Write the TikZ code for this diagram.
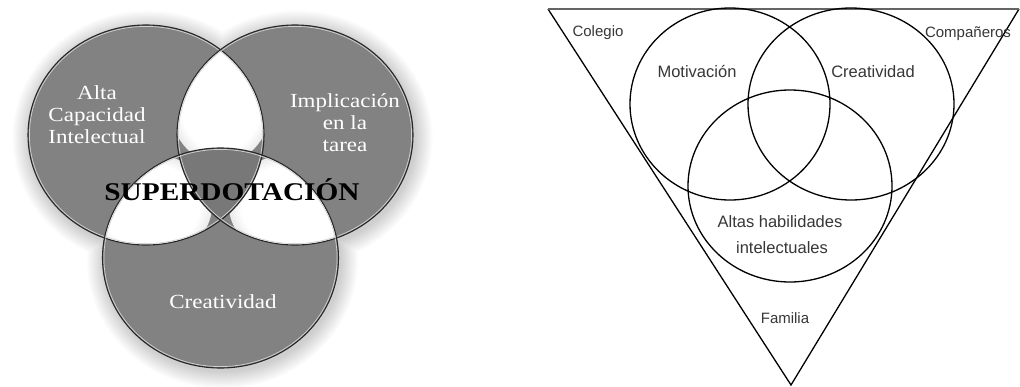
\documentclass[tikz,border=0pt]{standalone}
\usepackage{fontspec}
\newfontfamily\venserif[FakeStretch=1.15]{Liberation Serif}
\newfontfamily\vensans{Liberation Sans}
\definecolor{circgray}{RGB}{130,130,130}
\definecolor{triplegray}{RGB}{120,120,120}
\definecolor{rimdark}{RGB}{40,40,40}
\definecolor{rimlight}{RGB}{210,210,210}
\definecolor{labelgray}{RGB}{55,55,55}
\definecolor{topline}{RGB}{100,100,100}
\pgfdeclareradialshading{lensglow}{\pgfpoint{0bp}{0bp}}{color(0bp)=(white); color(20bp)=(white); color(50bp)=(circgray)}
\tikzset{
  whitelbl/.style={text=white, font=\venserif\fontsize{20}{22}\selectfont, align=center, inner sep=0pt},
  titlelbl/.style={text=black, font=\venserif\bfseries\fontsize{25.5}{28}\selectfont, inner sep=0pt, anchor=base},
  sanslbl/.style={text=labelgray, font=\vensans\fontsize{16.5}{26}\selectfont, inner sep=0pt, anchor=base},
  cornerlbl/.style={text=labelgray, font=\vensans\fontsize{15}{18}\selectfont, inner sep=0pt, anchor=base},
  venline/.style={black, line width=1.3pt},
}
\begin{document}
\begin{tikzpicture}[x=1pt,y=-1pt]
\useasboundingbox (0,0) rectangle (1020,386);
\fill[white] (0,0) rectangle (1020,386);

% ---------- left diagram ----------
\coordinate (cL) at (146,135);
\coordinate (cR) at (295,135);
\coordinate (cB) at (220.5,258);

% soft halo
\foreach \k in {1,...,16} {
  \fill[black, opacity=0.011]
    ([shift={(2,3)}]cL) ellipse [x radius={118pt+\k*1.1pt}, y radius={110pt+\k*1.1pt}]
    ([shift={(2,3)}]cR) ellipse [x radius={118pt+\k*1.1pt}, y radius={110pt+\k*1.1pt}]
    ([shift={(2,3)}]cB) ellipse [x radius={118pt+\k*1.1pt}, y radius={110pt+\k*1.1pt}];
}

% circles
\fill[circgray]
  (cL) ellipse [x radius=118pt, y radius=110pt]
  (cR) ellipse [x radius=118pt, y radius=110pt]
  (cB) ellipse [x radius=118pt, y radius=110pt];

% lenses
\begin{scope}
  \clip (cL) ellipse [x radius=118pt, y radius=110pt];
  \clip (cR) ellipse [x radius=118pt, y radius=110pt];
  \shade[shading=lensglow] (220.5,100) ellipse [x radius=52pt, y radius=64pt];
\end{scope}
\begin{scope}
  \clip (cL) ellipse [x radius=118pt, y radius=110pt];
  \clip (cB) ellipse [x radius=118pt, y radius=110pt];
  \shade[shading=lensglow] (150,206) ellipse [x radius=62pt, y radius=52pt];
\end{scope}
\begin{scope}
  \clip (cR) ellipse [x radius=118pt, y radius=110pt];
  \clip (cB) ellipse [x radius=118pt, y radius=110pt];
  \shade[shading=lensglow] (291,206) ellipse [x radius=62pt, y radius=52pt];
\end{scope}
\begin{scope}
  \clip (cL) ellipse [x radius=118pt, y radius=110pt];
  \clip (cR) ellipse [x radius=118pt, y radius=110pt];
  \clip (cB) ellipse [x radius=118pt, y radius=110pt];
  \fill[triplegray] (100,100) rectangle (340,300);
\end{scope}

% rims
\foreach \c in {cL,cR,cB} {
  \draw[rimdark, line width=1.1pt] (\c) ellipse [x radius=118pt, y radius=110pt];
  \draw[rimlight, line width=0.7pt] (\c) ellipse [x radius=116.6pt, y radius=108.6pt];
}

\node[whitelbl] (alta) at (97,115) {Alta\\Capacidad\\Intelectual};
\node[whitelbl] (impl) at (345,123) {Implicación\\en la\\tarea};
\node[whitelbl, anchor=base] (creaL) at (223,308) {Creatividad};
\node[titlelbl] (super) at (232,200) {SUPERDOTACIÓN};

% ---------- right diagram ----------
\coordinate (tl) at (548,9);
\coordinate (tr) at (1019,9);
\coordinate (bt) at (791,385);
\draw[venline, line join=miter] (tl) -- (bt) -- (tr);
\draw[topline, line width=2pt] (tl) -- (tr);

\draw[venline] (730,104) ellipse [x radius=100pt, y radius=96pt];
\draw[venline] (851,104) ellipse [x radius=103pt, y radius=96pt];
\draw[venline] (790,186) ellipse [x radius=102pt, y radius=96pt];

\node[cornerlbl] (colegio) at (598,36) {Colegio};
\node[cornerlbl] (comp) at (968,37) {Compañeros};
\node[sanslbl] (motiv) at (697,77) {Motivación};
\node[sanslbl] (creaR) at (873,77) {Creatividad};
\node[sanslbl] (altas) at (780,227) {Altas habilidades};
\node[sanslbl] (intel) at (782,253) {intelectuales};
\node[cornerlbl] (familia) at (785,323) {Familia};
\end{tikzpicture}
\end{document}
